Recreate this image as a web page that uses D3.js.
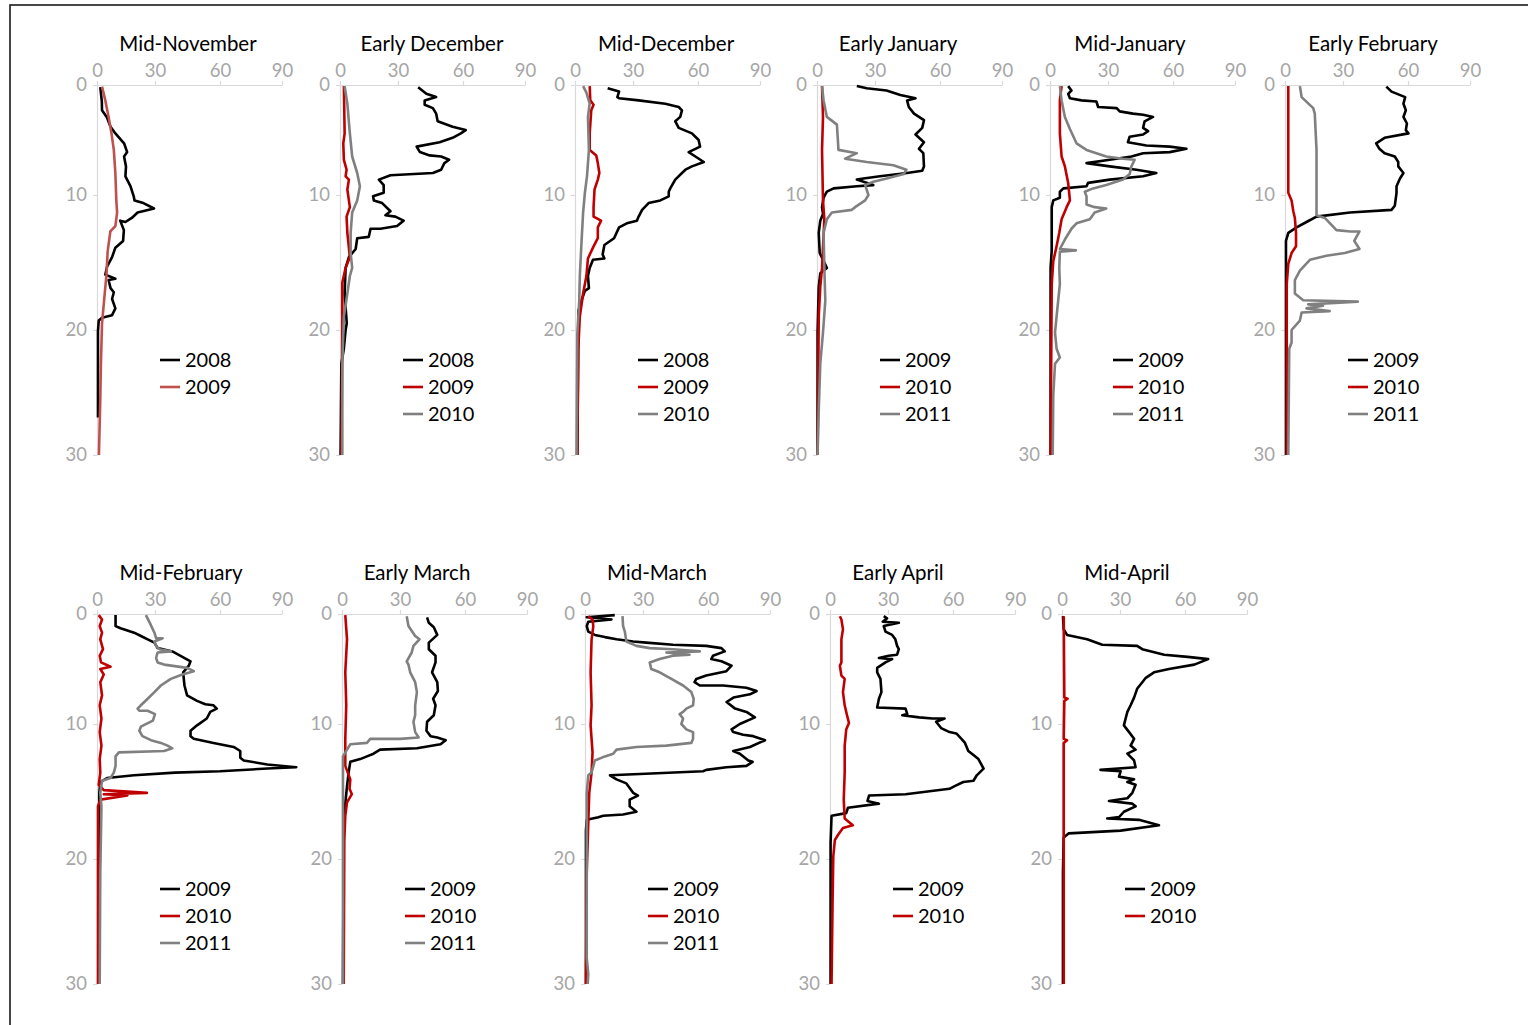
<!DOCTYPE html>
<html lang="en">
<head>
<meta charset="utf-8">
<title>depth profiles</title>
<script src="https://cdn.jsdelivr.net/npm/d3@7"></script>
<style>
  body { margin: 0; background: #fff; }
  svg { display: block; font-family: Lato, "Open Sans", sans-serif; }
  .axis .tick text { fill: #a6a6a6; font-size: 18.5px; font-family: Lato, sans-serif; }
  .axis .tick line, .axis .domain { stroke: #d9d9d9; stroke-width: 1.2; }
  .title { font-size: 20.5px; fill: #000; }
  .legend text { font-size: 20px; fill: #000; }
</style>
</head>
<body>
<svg id="chart" width="1528" height="1025"></svg>
<script>
const titles = ["Mid-November", "Early December", "Mid-December", "Early January", "Mid-January", "Early February",
                "Mid-February", "Early March", "Mid-March", "Early April", "Mid-April"];
const years = [["2008", "2009"], ["2008", "2009", "2010"], ["2008", "2009", "2010"], ["2009", "2010", "2011"],
               ["2009", "2010", "2011"], ["2009", "2010", "2011"], ["2009", "2010", "2011"], ["2009", "2010", "2011"],
               ["2009", "2010", "2011"], ["2009", "2010"], ["2009", "2010"]];
const xTicks = [0, 30, 60, 90];
const yTicks = [0, 10, 20, 30];

// each series: [value, depth] pairs
const midNovember = [
  [[1.7,0.2],[2.5,1.5],[2.6,2.3],[5,2.9],[7,3.8],[9.5,4.4],[14,5.3],[15.6,6.1],[14,6.5],[15,7.4],[14.7,8.3],[17.3,9.2],[19,10.1],[19.4,10.4],[24,10.6],[29.5,11],[21,11.3],[18,11.7],[14.7,12],[12,11.9],[13.9,12.6],[13.5,13.4],[9.5,13.9],[7.8,14.6],[5.2,15.3],[4.3,15.9],[9.5,16.2],[6,16.3],[7,16.9],[8.7,17.2],[7.8,17.7],[9.5,18.4],[7.8,18.9],[2.6,19.1],[0.9,19.3],[0.5,20.1],[0.5,27]],
  [[2.6,0.15],[4.3,1.4],[6,2.9],[7.5,4.4],[8.7,5.9],[9.5,8],[10,10.4],[10.4,11.3],[9.5,12.3],[6.9,12.7],[5.5,14.2],[4.9,15.9],[3.8,17.6],[2.6,19.5],[2,22.9],[1.7,25.5],[1,30]]
];
const earlyDecember = [
  [[39.3,0.2],[43.1,0.8],[47.6,1.1],[42.3,1.4],[42.3,1.8],[46.1,2.1],[47.6,2.6],[48.3,3.3],[55.2,3.8],[61.3,4.1],[59,4.4],[55.2,4.8],[49.2,5.2],[38.6,5.6],[40.1,6.1],[44.6,6.4],[49.9,6.5],[53.6,6.8],[51.4,7.1],[49.9,7.7],[46.1,8],[26.1,8.2],[20.1,8.6],[22.6,9.1],[22.6,9.8],[17.1,10.1],[17.5,10.4],[21.8,10.6],[26.1,11.2],[23.5,11.5],[28.6,11.6],[32.6,11.9],[29.5,12.3],[20.9,12.5],[15.8,12.5],[14.9,13.1],[8.9,13.2],[8.1,14],[4.6,14.6],[2.9,15.4],[2.4,17.3],[3.5,19.5],[2.9,20],[2,21.5],[0.7,22.7],[0.3,30]],
  [[2,0.1],[2.4,4.4],[1.7,5.3],[2,6.8],[3.4,7.7],[2.9,8.3],[4.6,8.6],[3.8,9.5],[5.1,10.9],[3.4,11.6],[3.8,12.8],[5.1,14.6],[2.9,15.4],[1.2,16.5],[1.2,20.2],[0.7,30]],
  [[2.4,0.1],[3.8,1.7],[5.1,4.4],[6.3,6.5],[8.9,8],[10.3,9.2],[8.9,10.4],[6.3,11.3],[5.5,12.8],[5.5,14.3],[6.3,15.4],[5.1,16],[3.8,17.3],[2,19],[1.2,22.7],[1.2,30]]
];
const midDecember = [
  [[16.9,0.3],[22.8,0.6],[21.9,1.1],[22.8,1.2],[32.6,1.4],[44.9,1.7],[51.1,2],[52.6,2.3],[51.8,2.9],[49.5,3.3],[51.1,3.9],[57.2,4.4],[60.3,5],[61,5.6],[55.7,6.1],[58.8,6.5],[62.8,7],[57.2,7.4],[54.2,7.7],[52.6,8],[49.5,8.6],[47.2,9.4],[46.5,9.7],[46.5,10.1],[42.6,10.4],[37.2,10.6],[34.2,11.1],[32.6,11.6],[31.8,11.9],[26.8,12.1],[22.8,12.4],[20.2,13.2],[15.2,13.7],[14.3,14.4],[15.2,14.7],[9.3,14.8],[7.6,15.4],[6.7,16],[7.2,16.9],[5.1,17.1],[3.4,17.8],[1.7,18.6],[1.7,20.3],[1.2,30]],
  [[7.6,0.1],[7.9,1.4],[9.6,1.8],[8.4,2.3],[7.6,4.4],[7.6,5.9],[11,6.4],[11.8,7.1],[12.6,8],[11.8,8.6],[10.1,9.5],[9.6,10.9],[9.6,11.6],[13.5,11.9],[11.8,12.4],[11.8,13.2],[9.3,13.9],[6.7,14.7],[5.9,16],[4.2,17.3],[2.5,19],[1.7,21.5],[1.2,30]],
  [[4.2,0.1],[5.9,0.7],[7.6,1.7],[6.7,2.9],[7.2,5.9],[6.2,8.3],[5.1,9.8],[4.2,11.3],[3.4,13.4],[2.5,16],[2.2,17.8],[1.2,20.3],[0.8,30]]
];
const earlyJanuary = [
  [[20.6,0.1],[25.7,0.3],[35.3,0.5],[41.7,0.9],[48.7,1.2],[44.8,1.4],[45.6,2],[48,2.6],[52.6,3.2],[51.8,3.9],[48.7,4.5],[52.6,5.2],[50.3,5.8],[52.3,6.2],[52.6,7.4],[51.8,7.8],[44.8,8],[32.3,8.3],[24,8.5],[20.6,8.6],[29.1,9.1],[20.6,9.2],[8.6,9.4],[5.1,9.7],[3.4,10.2],[2.6,10.9],[3.1,11.4],[1.7,11.9],[0.9,12.8],[1.4,14.3],[5.1,15.4],[1.7,15.8],[0.9,16.8],[0.3,20.2],[0.3,30]],
  [[2.6,0.1],[3.1,2.9],[2.6,5.9],[3.1,10.4],[3.8,11.8],[2.6,15.4],[1.7,16.8],[0.9,19],[0.3,30]],
  [[2.6,0.1],[3.4,1.4],[5.1,2.9],[10.3,3.6],[11.1,5.9],[20.6,6.2],[14.6,6.7],[25.7,7],[38.5,7.3],[44.5,7.7],[43.3,8.1],[35.4,8.5],[29.1,8.8],[24.9,9.1],[26.6,10],[24.9,10.4],[19.7,10.9],[18,11.1],[7.7,11.3],[5.1,11.8],[3.4,12.8],[3.8,15.4],[4.3,17.8],[3.1,20.2],[1.7,22.7],[0.9,26.4],[0.3,30]]
];
const midJanuary = [
  [[9.4,0.1],[11.1,0.5],[9.4,0.8],[10.3,1.2],[16.3,1.4],[24,1.5],[24.9,2],[34,2.1],[35.4,2.4],[41.5,2.6],[46.2,2.7],[50.8,2.9],[46.9,3.3],[46.2,3.9],[48.5,4.2],[46.2,4.5],[40,4.7],[39.2,5.2],[47.7,5.5],[58.5,5.6],[66.5,5.8],[58.5,6.1],[46.2,6.2],[40.8,6.5],[30.8,6.8],[18.9,7.1],[30.8,7.4],[43.1,7.7],[52.3,8],[46.2,8.3],[30.8,8.6],[19.7,8.9],[18.9,9.2],[6.9,9.4],[5.1,9.7],[5.1,10.2],[1.7,10.4],[0.9,10.9],[0.9,14.1],[0.3,15.4],[0.3,30]],
  [[6,0.1],[5.1,1.4],[5.1,4.4],[6,6.5],[7.7,7.4],[9.4,8.9],[10.3,10.4],[8.6,10.9],[6,11.8],[4.8,12.8],[3.4,13.8],[1.7,14.9],[0.9,16.6],[0.3,30]],
  [[5.1,0.1],[6,1.4],[7.7,2.9],[10.3,4],[13.7,5.3],[18.9,5.9],[24,6.2],[29.1,6.5],[36.9,6.7],[42.3,6.8],[40.8,7.4],[40,8.1],[36.9,8.6],[29.1,9.1],[22.3,9.4],[18,9.7],[18.9,10.1],[18.9,10.7],[23.1,10.9],[29.1,11],[23.1,11.3],[20.6,11.8],[13.7,12.1],[11.1,12.5],[7.7,13.3],[5.1,14],[13.4,14.1],[5.1,14.2],[4.8,15.4],[5.1,16.6],[3.4,19],[2.6,20.2],[3.4,21.5],[5.1,22.2],[2.6,22.7],[1.7,25.2],[1.4,30]]
];
const earlyFebruary = [
  [[50,0.15],[52.4,0.6],[58.7,1.1],[57.9,1.7],[59,2.3],[57.9,2.9],[59.5,3.5],[59,4.1],[60.2,4.4],[49.2,4.8],[45.3,5.3],[46.8,5.8],[49.2,6.2],[53.9,6.5],[55.5,7],[55.5,7.4],[57.9,8],[56.3,8.5],[54.7,9.2],[54.7,9.8],[53.9,10.8],[52.4,11.1],[33.2,11.3],[16.3,11.6],[11.1,12],[6,12.4],[1.7,12.8],[0.5,13.4],[0.5,30]],
  [[1.7,0.1],[1.7,9.8],[3.4,10.4],[4.3,11.2],[5.1,11.7],[5.7,12.8],[5.7,13.8],[3.4,14.3],[1.7,15.1],[0.9,16.6],[0.9,30]],
  [[7.7,0.1],[8.6,1.1],[14.6,2.1],[15.4,2.6],[16.3,5.9],[16.3,10.4],[16.3,11.5],[20.6,11.7],[26.6,12.6],[33.4,12.7],[37.6,12.7],[35.2,13.4],[37.6,14],[30.8,14.3],[21.4,14.5],[12.9,14.8],[7.7,15.6],[5.1,16.3],[5.1,17.3],[9.4,17.8],[36.8,17.9],[12,18.1],[19.7,18.2],[11.1,18.4],[23.1,18.6],[8.6,18.7],[7.7,19.3],[3.4,20],[3.4,21],[2.2,21.5],[1.7,30]]
];
const midFebruary = [
  [[9.6,0.1],[9.6,1.1],[12.2,1.3],[19.2,1.7],[22.7,2],[26.2,2.3],[29.7,2.6],[31.2,3.1],[38,3.4],[41.8,3.8],[46.4,4.3],[45.6,4.7],[43,5.3],[43.6,6.5],[44.8,7.4],[49.4,7.9],[53.2,8.2],[57,8.3],[58.5,8.6],[55.5,8.9],[53.9,9.5],[49.4,10.1],[46.4,10.5],[46.4,10.9],[47.9,11.1],[57,11.4],[66.6,11.7],[69.8,12],[69.8,12.5],[71.5,12.7],[82.9,13],[96.9,13.2],[82.9,13.3],[60,13.5],[39.2,13.6],[19.2,13.8],[5.2,14],[1.7,14.3],[1.2,15.1],[0.9,30]],
  [[0.9,0.1],[2.6,0.5],[1.4,1.1],[2.6,1.7],[1.7,2.3],[3.1,3.2],[1.4,3.8],[2.1,4.4],[7,4.8],[1.7,5],[3.5,5.5],[1.7,6.2],[2.6,7.4],[1.4,8.3],[2.3,9.5],[1.4,10.6],[2.3,11.6],[1.4,12.6],[1.7,13.6],[0.9,14.5],[3.5,14.9],[25.8,15.1],[3.5,15.2],[15.7,15.3],[1.7,15.6],[0.5,16.1],[0.5,30]],
  [[25.3,0.1],[27,0.7],[29.7,1.7],[30.5,2.2],[33.5,2.2],[29.7,2.5],[30.5,2.9],[32,3.2],[37.3,3.4],[31.2,3.5],[30.5,4],[31.2,4.4],[34.2,4.6],[44.8,4.9],[47.9,5.2],[42.6,5.5],[37.3,5.9],[32.7,6.5],[29.7,7.1],[26.2,7.7],[22.7,8.3],[21,8.6],[21.9,8.8],[26.2,8.8],[30,9.1],[28.9,9.7],[22.7,10.2],[21.9,10.5],[23.5,10.9],[27.9,11.2],[32.7,11.4],[35.8,11.6],[38,11.8],[34.2,12],[11.3,12.1],[9.6,12.4],[9.6,13.1],[8.7,13.6],[7,14],[2.6,14.2],[1.7,15.1],[2.3,16.1],[1.7,21.1],[1.4,30]]
];
const earlyMarch = [
  [[42.5,0.3],[43.3,0.8],[45.6,1.2],[47.2,1.9],[43.3,2.6],[43.3,3.2],[46.4,3.8],[46.4,4.4],[44.8,5.3],[47.2,6.2],[47.5,7],[45.3,7.7],[46.4,8.3],[45.6,9.2],[42.5,9.8],[42.2,10.5],[44.1,10.9],[47.2,11],[51.1,11.2],[48.7,11.5],[37.8,11.8],[19.7,11.9],[16.3,12.2],[12.9,12.4],[9.4,12.6],[4.3,12.8],[3.4,13.6],[2.6,14.6],[1.7,15.9],[0.9,17.3],[0.5,30]],
  [[1.7,0.1],[2.6,2.3],[1.7,5.3],[2.2,8.3],[1.7,11.1],[1.7,13.1],[4.3,14.1],[3.9,14.8],[5.1,15.2],[2.6,15.8],[1.7,16.8],[1.2,18.6],[0.9,30]],
  [[33.1,0.2],[33.9,1.1],[37,2],[39,2.3],[36.2,2.9],[35.4,3.5],[33.1,4.3],[33.9,4.6],[34.7,5.3],[37,6.2],[37.8,7.1],[37,8.3],[37,9.2],[36.2,9.8],[37,10.6],[38.6,11],[30,11.1],[14.6,11.1],[12.9,11.4],[4.3,11.5],[2.6,11.9],[0.5,12.4],[0.5,30]]
];
const midMarch = [
  [[15.4,0.1],[0.9,0.3],[13.7,0.5],[1.7,0.7],[0.9,1.1],[1.7,1.6],[5.1,1.9],[10.3,2.1],[16.3,2.3],[24.9,2.5],[31.5,2.6],[43.8,2.8],[59.2,2.9],[66.5,3.1],[68.1,3.4],[62.4,3.8],[61.6,4.1],[66.5,4.3],[71.4,4.7],[68.9,5.2],[59.2,5.6],[54.6,5.9],[53.8,6.2],[56.2,6.5],[67.3,6.5],[78.6,6.7],[83.5,7],[80.3,7.3],[72.3,7.6],[69,8],[73.1,8.6],[78.6,8.9],[82.7,9.4],[75.4,10],[71.4,10.4],[72.2,10.6],[77,10.8],[81.9,10.9],[87.6,11.2],[80.3,11.7],[72.2,12],[75.4,12.2],[79.5,12.7],[81.6,12.8],[78.6,13.1],[68.9,13.2],[59.2,13.4],[57.7,13.5],[28.3,13.7],[12.9,13.8],[16.3,14.1],[21.4,14.4],[24.9,15.1],[27.4,15.3],[23.1,15.6],[23.1,16.1],[26.6,16.5],[19.7,16.7],[9.4,16.8],[6.9,16.9],[0.9,17.1],[0.5,17.9],[0.5,30]],
  [[1.7,0.2],[3.9,0.5],[4.3,1.1],[3.4,2.3],[2.9,5.3],[3.4,8.3],[2.9,10.1],[3.9,12.1],[3.4,13.6],[2.2,15.1],[1.7,17.3],[0.9,21.1],[0.5,30]],
  [[19.4,0.2],[19.7,1.1],[20.6,1.6],[21.4,2.5],[26.6,2.9],[33.1,3.1],[43.8,3.2],[56.2,3.4],[40.8,3.5],[51.5,3.7],[43.8,3.8],[37.7,4.1],[33.1,4.4],[33.8,5],[37.7,5.3],[43.1,5.9],[48.5,6.5],[52.3,7.1],[53.4,7.7],[53.1,8.3],[50,8.6],[48.5,8.9],[46.9,9.1],[48.5,9.5],[47.7,10],[50,10.4],[53.1,10.6],[53.1,11.1],[52.3,11.4],[40.8,11.6],[26.6,11.7],[16.3,11.9],[14.6,12.2],[10.3,12.4],[5.1,12.7],[3.4,13.6],[1.7,13.8],[0.9,15.1],[0.9,27.9],[1.7,29.2],[1.4,30]]
];
const earlyApril = [
  [[27.8,0.2],[29.5,0.4],[27.3,0.7],[35,0.8],[27.8,1.1],[28.7,1.6],[31.9,1.9],[33.4,2.3],[34.2,2.9],[35,3.2],[34.2,3.7],[30.3,3.8],[25.3,4],[31.9,4.1],[28.7,4.4],[24.4,4.9],[24.4,5.3],[26.1,5.9],[26.6,7.1],[25.3,7.7],[24.4,8.5],[38.1,8.6],[38.9,9.1],[36.6,9.2],[44.4,9.4],[50.6,9.5],[56.1,9.5],[52.2,9.8],[54.5,10.3],[58.4,10.6],[61.6,10.7],[64.1,11.1],[65.8,11.4],[67.4,12],[69.9,12.3],[72.3,12.6],[74.8,13.3],[71.5,13.8],[69.9,14.2],[65,14.3],[60.8,14.6],[58.4,14.8],[38.1,15.2],[20.2,15.3],[19.4,15.7],[25.3,15.9],[9.3,16.2],[8.4,16.6],[0.8,16.8],[0.3,18.8],[0.3,30]],
  [[5.1,0.2],[5.9,0.5],[6.7,1.4],[5.9,2.3],[5.9,4.4],[5.1,4.7],[5.9,5.6],[7.6,5.9],[6.7,7.1],[7.6,8.3],[8.8,9.2],[9.8,9.9],[8.4,10.4],[7.6,11.6],[7.6,13.6],[7.1,15.6],[7.6,17],[11.8,17.5],[6.7,17.7],[4.2,18.2],[2.5,18.6],[1.7,19.8],[1.3,23.8],[0.8,30]]
];
const midApril = [
  [[0.5,0.2],[0.9,1.4],[2.6,1.9],[13,2.3],[20.8,2.8],[37.9,2.9],[40.3,3.2],[50.4,3.7],[61.3,3.9],[71.2,4.1],[64.5,4.6],[52.6,5],[45.7,5.3],[41.9,5.8],[40.3,6.2],[37.9,6.8],[36.5,7.6],[34.9,8.3],[33.4,8.9],[32.6,9.5],[31.8,10.1],[34.2,10.6],[36.5,11.1],[34.9,11.6],[37.2,11.9],[33.4,12.2],[36.5,12.7],[37.2,13.2],[19.9,13.4],[30.3,13.5],[29.5,13.9],[36.5,14.1],[33.4,14.3],[37.2,14.5],[35.7,15.1],[33.4,15.5],[24.3,15.7],[35.7,15.9],[37.2,16.1],[31.8,16.5],[29.5,16.9],[23.4,17],[38.7,17.1],[48,17.5],[30.3,17.9],[3.5,18.1],[0.9,18.4],[0.5,21.1],[0.5,30]],
  [[0.9,0.2],[1.2,7.6],[2.9,7.7],[1.2,7.9],[0.9,11.1],[2.6,11.2],[0.9,11.4],[0.9,30]]
];
const profiles = [midNovember, earlyDecember, midDecember, earlyJanuary, midJanuary, earlyFebruary,
                  midFebruary, earlyMarch, midMarch, earlyApril, midApril];

// layout of the 11 small panels
const panelX = [97, 340, 575, 817, 1050, 1285, 97, 342, 585, 830, 1062];
const panelTop = [85, 85, 85, 85, 85, 85, 614, 614, 614, 614, 614];
const titleX = [188, 432, 666, 898, 1130, 1373, 181, 417, 657, 898, 1127];
const xSteps = [0, 58, 123, 185];
const ySteps = [0, 110, 245, 370];

const svg = d3.select("#chart");

svg.append("rect")
  .attr("x", 10).attr("y", 5)
  .attr("width", 1600).attr("height", 1100)
  .attr("fill", "none").attr("stroke", "#1a1a1a").attr("stroke-width", 1.6);

profiles.forEach((series, i) => {
  const x0 = panelX[i], top = panelTop[i];
  const x = d3.scaleLinear().domain(xTicks).range(xSteps.map(d => x0 + d));
  const y = d3.scaleLinear().domain(yTicks).range(ySteps.map(d => top + d));
  const red = i === 0 ? "#c0504d" : "#c00000";
  const colors = ["#000000", red, "#808080"];

  const g = svg.append("g");

  g.append("g").attr("class", "axis")
    .attr("transform", `translate(0,${top})`)
    .call(d3.axisTop(x).tickValues(xTicks).tickSize(4).tickSizeOuter(0).tickPadding(4));

  g.append("g").attr("class", "axis")
    .attr("transform", `translate(${x0},0)`)
    .call(d3.axisLeft(y).tickValues(yTicks).tickSize(4).tickSizeOuter(0).tickPadding(6));

  g.append("text").attr("class", "title")
    .attr("x", titleX[i]).attr("y", top - 34)
    .attr("text-anchor", "middle")
    .text(titles[i]);

  const line = d3.line().x(d => x(d[0])).y(d => y(d[1]));

  g.selectAll(".profile")
    .data(series)
    .join("path")
    .attr("class", "profile")
    .attr("d", line)
    .attr("fill", "none")
    .attr("stroke", (d, k) => colors[k])
    .attr("stroke-width", 2.6)
    .attr("stroke-linejoin", "round");

  // legend
  const lg = g.append("g").attr("class", "legend")
    .attr("transform", `translate(${x0 + 63},${top + 275})`);
  const items = lg.selectAll("g").data(years[i]).join("g")
    .attr("transform", (d, k) => `translate(0,${k * 27})`);
  items.append("line")
    .attr("x1", 0).attr("x2", 20)
    .attr("stroke", (d, k) => colors[k]).attr("stroke-width", 2.6);
  items.append("text")
    .attr("x", 25).attr("dy", "0.35em")
    .text(d => d);
});
</script>
</body>
</html>
